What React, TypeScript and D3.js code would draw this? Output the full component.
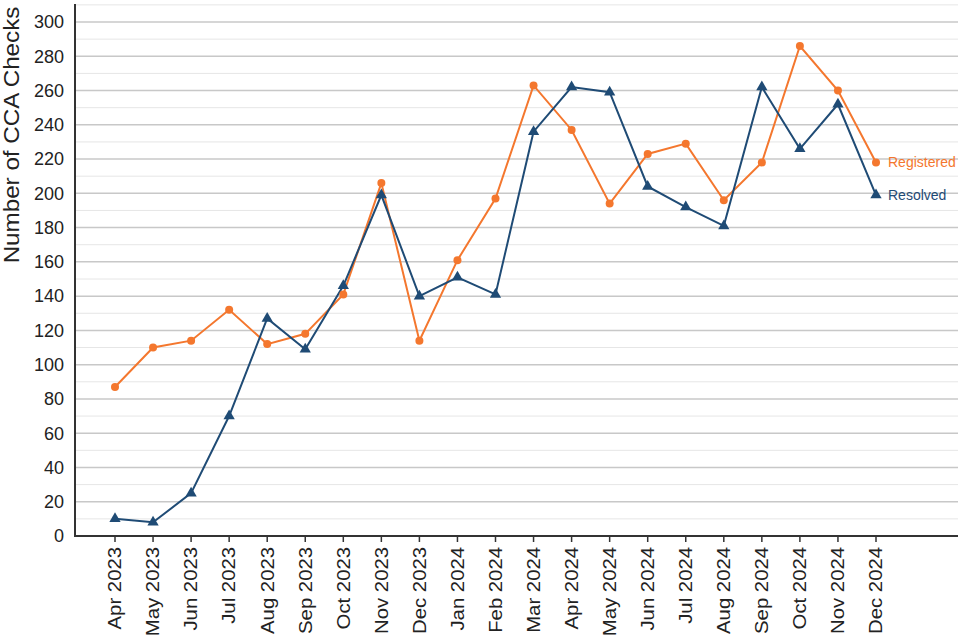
import React from "react";
import * as d3 from "d3";

const months = ["Apr 2023","May 2023","Jun 2023","Jul 2023","Aug 2023","Sep 2023","Oct 2023","Nov 2023","Dec 2023","Jan 2024","Feb 2024","Mar 2024","Apr 2024","May 2024","Jun 2024","Jul 2024","Aug 2024","Sep 2024","Oct 2024","Nov 2024","Dec 2024"];
const registered = [87,110,114,132,112,118,141,206,114,161,197,263,237,194,223,229,196,218,286,260,218];
const resolved = [10,8,25,70,127,109,146,199,140,151,141,236,262,259,204,192,181,262,226,252,199];
const yTicks = [0,20,40,60,80,100,120,140,160,180,200,220,240,260,280,300];
const minorTicks = [10,30,50,70,90,110,130,150,170,190,210,230,250,270,290,310];

const ORANGE = "#f4772e";
const BLUE = "#1f4b75";
const FONT = "Liberation Sans, Arial, sans-serif";

export default function App() {
  const W = 960, H = 640;
  const x0 = 75, x1 = 958;
  const y = d3.scaleLinear().domain([0, 300]).range([536, 22]);
  const x = d3.scaleLinear().domain([0, 20]).range([115, 876]);
  const line = d3.line<number>().x((_, i) => x(i)).y(d => y(d));
  const tri = d3.symbol().type(d3.symbolTriangle).size(55)();
  return (
    <svg width={W} height={H} style={{ position: "absolute", left: 0, top: 0, background: "#fff" }} fontFamily={FONT}>
      {minorTicks.map(t => (
        <line key={"m" + t} x1={x0} x2={x1} y1={y(t)} y2={y(t)} stroke="#e6e6e6" strokeWidth={1} />
      ))}
      {yTicks.filter(t => t > 0).map(t => (
        <line key={"g" + t} x1={x0} x2={x1} y1={y(t)} y2={y(t)} stroke="#c8c8c8" strokeWidth={1.5} />
      ))}
      {yTicks.map(t => (
        <text key={"yt" + t} x={64} y={y(t)} dy="0.35em" textAnchor="end" fontSize={18} fill="#222">{t}</text>
      ))}
      <line x1={x0} x2={x0} y1={4} y2={537} stroke="#333" strokeWidth={2} />
      <line x1={x0 - 1} x2={x1} y1={536} y2={536} stroke="#333" strokeWidth={2} />
      {months.map((m, i) => (
        <g key={m} transform={`translate(${x(i)},536)`}>
          <line y1={0} y2={6} stroke="#333" strokeWidth={1.5} />
          <text transform="rotate(-90) scale(1.13,1)" x={-9.7} y={0} dy="0.35em" textAnchor="end" fontSize={18} fill="#222">{m}</text>
        </g>
      ))}
      <text transform={`translate(19,135) rotate(-90) scale(1.1,1)`} textAnchor="middle" fontSize={22} fill="#222">Number of CCA Checks</text>
      <path d={line(registered) || ""} fill="none" stroke={ORANGE} strokeWidth={2} />
      <path d={line(resolved) || ""} fill="none" stroke={BLUE} strokeWidth={2} />
      {registered.map((v, i) => (
        <circle key={"r" + i} cx={x(i)} cy={y(v)} r={4} fill={ORANGE} />
      ))}
      {resolved.map((v, i) => (
        <path key={"s" + i} d={tri || ""} transform={`translate(${x(i)},${y(v)})`} fill={BLUE} />
      ))}
      <text x={x(20) + 12} y={y(registered[20])} dy="0.35em" fontSize={14} fill={ORANGE}>Registered</text>
      <text x={x(20) + 12} y={y(resolved[20])} dy="0.35em" fontSize={14} fill={BLUE}>Resolved</text>
    </svg>
  );
}
